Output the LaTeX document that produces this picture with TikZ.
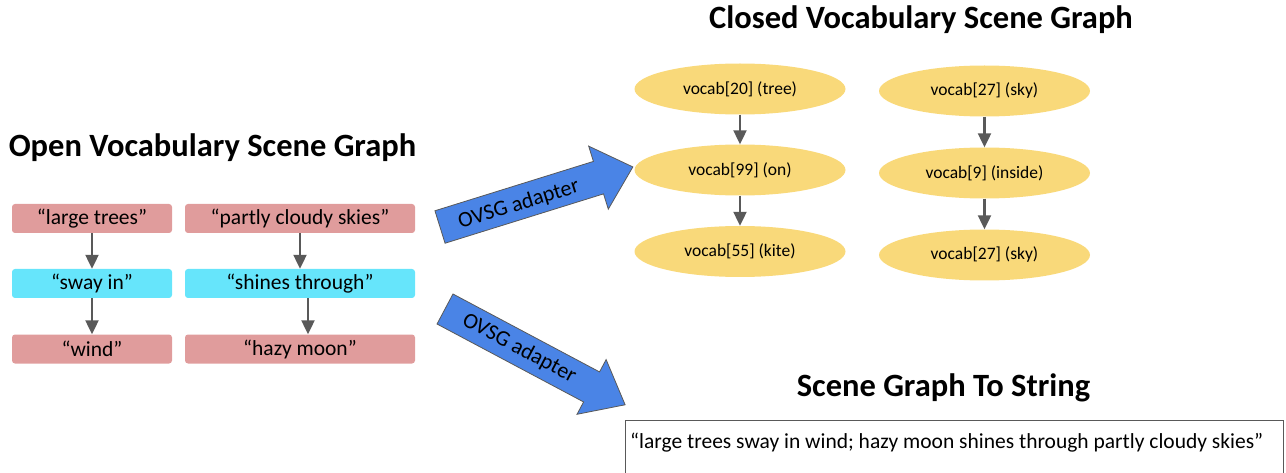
\documentclass[tikz,border=0pt]{standalone}
\usepackage{fontspec}
\setmainfont{Carlito}
\usetikzlibrary{arrows.meta,shapes.geometric}
\definecolor{redbox}{HTML}{E09C9C}
\definecolor{cyanbox}{HTML}{66E5FB}
\definecolor{yel}{HTML}{F9D97A}
\definecolor{blk}{HTML}{4A84E6}
\definecolor{gr}{HTML}{595959}
\tikzset{
  redn/.style={fill=redbox, rounded corners=3pt, minimum height=29pt, inner sep=0pt, font=\fontsize{21.5}{24}\selectfont},
  cyann/.style={redn, fill=cyanbox},
  ell/.style={ellipse, fill=yel, minimum width=211pt, minimum height=51pt, inner sep=0pt, font=\fontsize{17.5}{20}\selectfont},
  conn/.style={draw=gr, line width=2.2pt, -{Triangle[width=13pt,length=14pt]}},
  title/.style={font=\fontsize{32.5}{36}\selectfont\bfseries},
  blockarrow/.style={fill=blk, draw=gr, line width=0.8pt},
  adlabel/.style={transform shape, inner sep=0pt, font=\fontsize{22}{24}\selectfont},
}
\begin{document}
\begin{tikzpicture}[x=1pt,y=-1pt]
\useasboundingbox (0,0) rectangle (1286,473);
% titles
\node[title] (t1) at (212.5,148) {Open Vocabulary Scene Graph};
\node[title] (t2) at (921,20) {Closed Vocabulary Scene Graph};
\node[title] (t3) at (943.5,388) {Scene Graph To String};
% left graph
\node[redn, minimum width=160pt] (a1) at (92,218.5) {“large trees”};
\node[cyann, minimum width=160pt] (a2) at (92,283.5) {“sway in”};
\node[redn, minimum width=160pt] (a3) at (92,349) {“wind”};
\node[redn, minimum width=230pt] (b1) at (300,218.5) {“partly cloudy skies”};
\node[cyann, minimum width=230pt] (b2) at (300,283.5) {“shines through”};
\node[redn, minimum width=230pt] (b3) at (300,349) {“hazy moon”};
\draw[conn] (a1.south) -- (a2.north);
\draw[conn] (a2.south) -- (a3.north);
\draw[conn] (b1.south) -- (b2.north);
\draw[conn] ([xshift=8pt]b2.south) -- ([xshift=8pt]b3.north);
% closed vocabulary graph
\node[ell] (c1) at (740,89) {vocab[20] (tree)};
\node[ell] (c2) at (740,170) {vocab[99] (on)};
\node[ell] (c3) at (740,251.5) {vocab[55] (kite)};
\node[ell] (d1) at (984.5,91) {vocab[27] (sky)};
\node[ell] (d2) at (984.5,173) {vocab[9] (inside)};
\node[ell] (d3) at (984.5,255) {vocab[27] (sky)};
\draw[conn] (c1.south) -- (c2.north);
\draw[conn] (c2.south) -- (c3.north);
\draw[conn] (d1.south) -- (d2.north);
\draw[conn] (d2.south) -- (d3.north);
% block arrows
\begin{scope}[shift={(440,227)}, rotate=17.3]
  \draw[blockarrow] (0pt,17pt) -- (166pt,17pt) -- (166pt,33pt) -- (202pt,0pt) -- (166pt,-33pt) -- (166pt,-17pt) -- (0pt,-17pt) -- cycle;
  \node[adlabel] (l1) at (82pt,-2pt) {OVSG adapter};
\end{scope}
\begin{scope}[shift={(445,309)}, rotate=-28]
  \draw[blockarrow] (0pt,17pt) -- (166pt,17pt) -- (166pt,31pt) -- (204pt,0pt) -- (166pt,-31pt) -- (166pt,-17pt) -- (0pt,-17pt) -- cycle;
  \node[adlabel] (l2) at (84pt,0pt) {OVSG adapter};
\end{scope}
% string box
\node[draw=gr, line width=1pt, minimum width=658pt, minimum height=70pt, anchor=north west, inner sep=0pt] (strbox) at (625,420) {};
\node[anchor=west, inner sep=0pt, font=\fontsize{21.5}{24}\selectfont] (str) at (630,443) {“large trees sway in wind; hazy moon shines through partly cloudy skies”};
\end{tikzpicture}
\end{document}
